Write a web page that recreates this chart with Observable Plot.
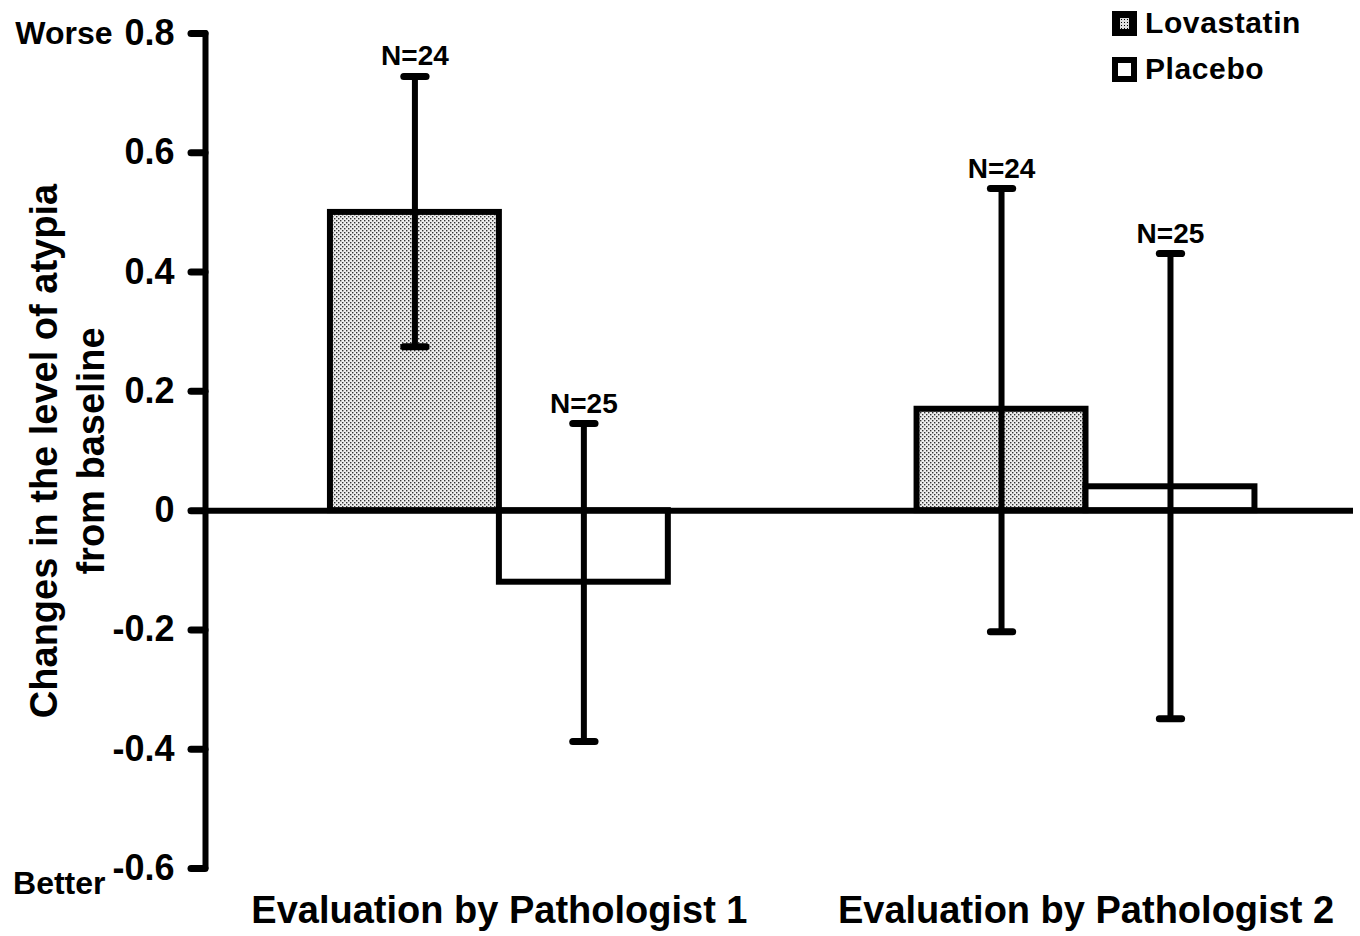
<!DOCTYPE html>
<html>
<head>
<meta charset="utf-8">
<script src="https://cdn.jsdelivr.net/npm/d3@7"></script>
<script src="https://cdn.jsdelivr.net/npm/@observablehq/plot@0.6"></script>
<style>
  html, body { margin: 0; padding: 0; background: #fff; }
  #wrap { position: relative; width: 1360px; height: 936px; font-family: "Liberation Sans", Arial, sans-serif; font-weight: bold; }
  #legend { position: absolute; left: 1112px; top: 0px; font-size: 30px; letter-spacing: 0.6px; color: #000; }
  #legend .row { display: flex; align-items: center; height: 46px; }
  #legend .sw { width: 25px; height: 25px; box-sizing: border-box; margin-right: 8px; }
  #legend .lov { background: #000; position: relative; }
  #legend .lov::after { content: ""; position: absolute; left: 8px; top: 7px; width: 9px; height: 11px;
    background-image: radial-gradient(#000 35%, #ddd 40%); background-size: 3px 3px; }
  #legend .pla { border: 6px solid #000; background: #fff; }
</style>
</head>
<body>
<div id="wrap"><div id="chart"></div>
<div id="legend">
  <div class="row"><span class="sw lov"></span><span class="lbl">Lovastatin</span></div>
  <div class="row"><span class="sw pla"></span><span class="lbl">Placebo</span></div>
</div>
</div>
<script>
// ---- data ----
const groups = ["Evaluation by Pathologist 1", "Evaluation by Pathologist 2"];
const treatments = ["Lovastatin", "Placebo"];
const lovastatinMean = [0.50, 0.17];
const placeboMean = [-0.12, 0.04];
const lovastatinLow = [0.275, -0.203];
const lovastatinHigh = [0.728, 0.54];
const placeboLow = [-0.387, -0.349];
const placeboHigh = [0.146, 0.431];
const lovastatinN = [24, 24];
const placeboN = [25, 25];
const yTicks = [0.8, 0.6, 0.4, 0.2, 0, -0.2, -0.4, -0.6];
const worseLabel = ["Worse"];
const betterLabel = ["Better"];

// ---- layout constants ----
const halfGroup = 0.288;        // width of one bar in x units
const capHalf = 0.019;          // error cap half-width in x units
const xDomain = [0.499, 2.456];

const rows = [];
groups.forEach((g, gi) => {
  treatments.forEach((t, ti) => {
    const mean = ti === 0 ? lovastatinMean[gi] : placeboMean[gi];
    const lo = ti === 0 ? lovastatinLow[gi] : placeboLow[gi];
    const hi = ti === 0 ? lovastatinHigh[gi] : placeboHigh[gi];
    const n = ti === 0 ? lovastatinN[gi] : placeboN[gi];
    const c = gi + 1;
    rows.push({
      group: g, treatment: t, mean, lo, hi, n,
      x1: c + (ti - 1) * halfGroup,
      x2: c + ti * halfGroup,
      xc: c + (ti - 0.5) * halfGroup
    });
  });
});

const font = "'Liberation Sans', Arial, sans-serif";

const plot = Plot.plot({
  width: 1360,
  height: 936,
  marginLeft: 205,
  marginRight: 7,
  marginTop: 33,
  marginBottom: 68,
  style: {fontFamily: font, fontWeight: "bold", color: "#000", background: "#fff"},
  x: {domain: xDomain},
  y: {domain: [-0.6, 0.8]},
  marks: [
    Plot.rectY(rows, {
      x1: "x1", x2: "x2", y1: 0, y2: "mean",
      fill: d => d.treatment === "Lovastatin" ? "url(#dots)" : "#fff",
      stroke: "#000", strokeWidth: 6
    }),
    Plot.ruleY([0], {stroke: "#000", strokeWidth: 6}),
    // error bars
    Plot.ruleX(rows, {x: "xc", y1: "lo", y2: "hi", stroke: "#000", strokeWidth: 6}),
    Plot.link(rows, {x1: d => d.xc - capHalf, x2: d => d.xc + capHalf, y1: "hi", y2: "hi",
      stroke: "#000", strokeWidth: 7, strokeLinecap: "round"}),
    Plot.link(rows, {x1: d => d.xc - capHalf, x2: d => d.xc + capHalf, y1: "lo", y2: "lo",
      stroke: "#000", strokeWidth: 7, strokeLinecap: "round"}),
    Plot.text(rows, {x: "xc", y: "hi", text: d => "N=" + d.n, dy: -11,
      fontSize: 28, fontWeight: "bold", fill: "#000", textAnchor: "middle", lineAnchor: "bottom",
      letterSpacing: 2.2}),
    // y axis line
    Plot.ruleX([xDomain[0]], {y1: -0.6, y2: 0.8, stroke: "#000", strokeWidth: 6, strokeLinecap: "round"}),
    Plot.axisY({
      ticks: yTicks,
      tickSize: 14,
      tickPadding: 17,
      strokeWidth: 7,
      strokeLinecap: "round",
      fontSize: 36,
      letterSpacing: 0.5,
      tickFormat: d => d === 0 ? "0" : d.toFixed(1),
      label: null
    }),
    Plot.text(worseLabel, {x: xDomain[0], y: 0.8, text: d => d, dx: -93, dy: 0,
      textAnchor: "end", fontSize: 32, letterSpacing: 0.8, fontWeight: "bold", fill: "#000"}),
    Plot.text(betterLabel, {x: xDomain[0], y: -0.6, text: d => d, dx: -100, dy: 15,
      textAnchor: "end", fontSize: 32, letterSpacing: 0.5, fontWeight: "bold", fill: "#000"}),
    Plot.axisX({
      ticks: [1, 2],
      tickSize: 0,
      tickPadding: 28,
      fontSize: 38,
      letterSpacing: 1.3,
      tickFormat: d => groups[d - 1],
      label: null
    }),
    Plot.text(["Changes in the level of atypia\nfrom baseline"], {
      frameAnchor: "left", dx: -140, rotate: -90, text: d => d,
      fontSize: 38, fontWeight: "bold", fill: "#000", lineHeight: 1.24, letterSpacing: 0.3,
      textAnchor: "middle", lineAnchor: "middle"
    })
  ]
});

// dotted pattern for Lovastatin bars
const ns = "http://www.w3.org/2000/svg";
const defs = document.createElementNS(ns, "defs");
defs.innerHTML = `<pattern id="dots" width="4" height="4" patternUnits="userSpaceOnUse">
  <rect width="4" height="4" fill="#eeeeee"/>
  <rect x="0" y="0" width="1.4" height="1.4" fill="#333"/>
  <rect x="2" y="2" width="1.4" height="1.4" fill="#333"/>
</pattern>`;
plot.insertBefore(defs, plot.firstChild);

document.getElementById("chart").appendChild(plot);
</script>
</body>
</html>
